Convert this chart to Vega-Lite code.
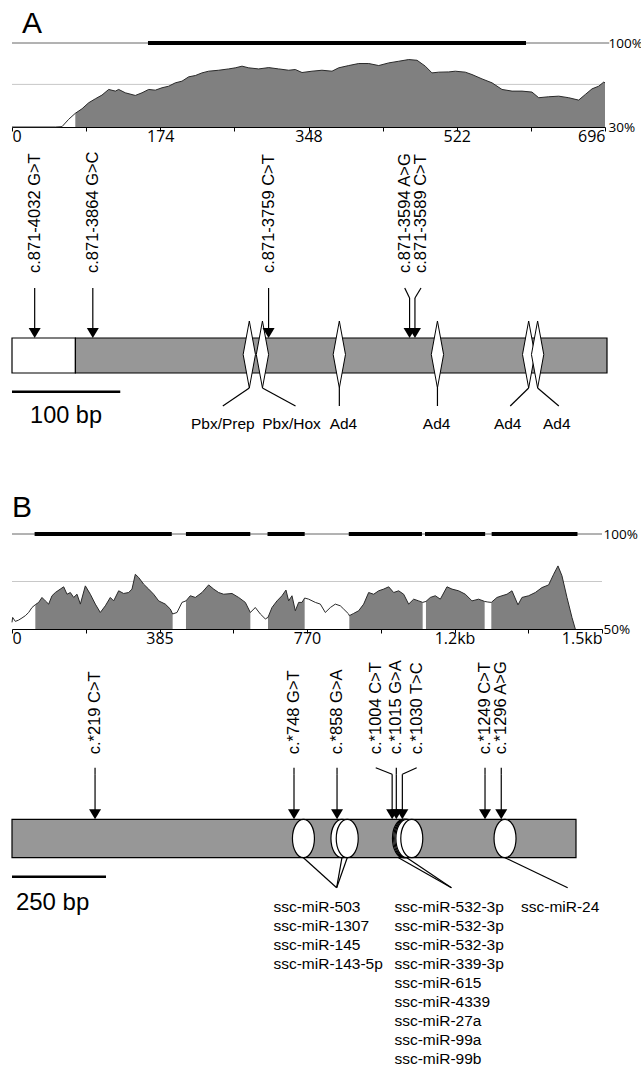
{
  "$schema": "https://vega.github.io/schema/vega-lite/v6.json",
  "background": "white",
  "padding": {"left": 10, "top": 8, "right": 0, "bottom": 0},
  "bounds": "flush",
  "spacing": 10,
  "config": {
    "view": {"stroke": null},
    "font": "Liberation Sans",
    "text": {"font": "Liberation Sans", "color": "black"},
    "title": {"font": "Liberation Sans", "fontSize": 30, "fontWeight": "normal", "anchor": "start", "baseline": "alphabetic", "color": "black"},
    "axis": {"labelFont": "Open Sans", "labelFontSize": 16, "labelColor": "black", "domainColor": "black", "tickColor": "black", "grid": false, "title": null, "labelOverlap": false}
  },
  "datasets": {
    "profileA": [
      {"pos": 0, "pct": 30}, {"pos": 50.9, "pct": 30}, {"pos": 58.7, "pct": 30.3}, {"pos": 66.5, "pct": 36.4},
      {"pos": 74.3, "pct": 41.4, "seg": "a1"}, {"pos": 82.2, "pct": 45.2, "seg": "a1"}, {"pos": 90.0, "pct": 50.2, "seg": "a1"}, {"pos": 97.8, "pct": 53.5, "seg": "a1"},
      {"pos": 105.6, "pct": 56.6, "seg": "a1"}, {"pos": 113.5, "pct": 61.3, "seg": "a1"}, {"pos": 121.3, "pct": 59.9, "seg": "a1"}, {"pos": 125.2, "pct": 61.3, "seg": "a1"},
      {"pos": 133.0, "pct": 58.5, "seg": "a1"}, {"pos": 144.7, "pct": 56.3, "seg": "a1"}, {"pos": 152.6, "pct": 58.5, "seg": "a1"}, {"pos": 160.4, "pct": 61.3, "seg": "a1"},
      {"pos": 168.2, "pct": 60.7, "seg": "a1"}, {"pos": 176.1, "pct": 62.7, "seg": "a1"}, {"pos": 183.9, "pct": 64.0, "seg": "a1"}, {"pos": 191.7, "pct": 66.8, "seg": "a1"},
      {"pos": 199.5, "pct": 68.2, "seg": "a1"}, {"pos": 207.4, "pct": 71.8, "seg": "a1"}, {"pos": 215.2, "pct": 72.9, "seg": "a1"}, {"pos": 223.0, "pct": 75.1, "seg": "a1"},
      {"pos": 230.8, "pct": 76.5, "seg": "a1"}, {"pos": 242.6, "pct": 77.3, "seg": "a1"}, {"pos": 254.3, "pct": 78.4, "seg": "a1"}, {"pos": 262.1, "pct": 79.3, "seg": "a1"},
      {"pos": 270.0, "pct": 80.7, "seg": "a1"}, {"pos": 277.8, "pct": 79.3, "seg": "a1"}, {"pos": 289.5, "pct": 78.4, "seg": "a1"}, {"pos": 301.3, "pct": 79.5, "seg": "a1"},
      {"pos": 313.0, "pct": 78.4, "seg": "a1"}, {"pos": 324.8, "pct": 77.3, "seg": "a1"}, {"pos": 332.5, "pct": 77.9, "seg": "a1"}, {"pos": 340.4, "pct": 75.4, "seg": "a1"},
      {"pos": 352.1, "pct": 76.5, "seg": "a1"}, {"pos": 363.8, "pct": 77.3, "seg": "a1"}, {"pos": 375.6, "pct": 76.5, "seg": "a1"}, {"pos": 383.4, "pct": 79.3, "seg": "a1"},
      {"pos": 395.2, "pct": 81.2, "seg": "a1"}, {"pos": 406.9, "pct": 82.9, "seg": "a1"}, {"pos": 418.7, "pct": 82.9, "seg": "a1"}, {"pos": 430.4, "pct": 81.2, "seg": "a1"},
      {"pos": 442.1, "pct": 83.4, "seg": "a1"}, {"pos": 453.9, "pct": 84.8, "seg": "a1"}, {"pos": 465.6, "pct": 86.2, "seg": "a1"}, {"pos": 475.4, "pct": 85.6, "seg": "a1"},
      {"pos": 485.1, "pct": 80.7, "seg": "a1"}, {"pos": 492.9, "pct": 75.1, "seg": "a1"}, {"pos": 500.8, "pct": 75.7, "seg": "a1"}, {"pos": 512.6, "pct": 75.9, "seg": "a1"},
      {"pos": 520.3, "pct": 76.5, "seg": "a1"}, {"pos": 532.0, "pct": 75.7, "seg": "a1"}, {"pos": 539.9, "pct": 73.7, "seg": "a1"}, {"pos": 551.6, "pct": 70.1, "seg": "a1"},
      {"pos": 563.4, "pct": 66.8, "seg": "a1"}, {"pos": 575.1, "pct": 61.3, "seg": "a1"}, {"pos": 586.9, "pct": 59.9, "seg": "a1"}, {"pos": 598.6, "pct": 59.9, "seg": "a1"},
      {"pos": 610.3, "pct": 59.1, "seg": "a1"}, {"pos": 618.2, "pct": 54.4, "seg": "a1"}, {"pos": 629.9, "pct": 55.2, "seg": "a1"}, {"pos": 641.7, "pct": 55.7, "seg": "a1"},
      {"pos": 653.4, "pct": 54.4, "seg": "a1"}, {"pos": 665.1, "pct": 52.4, "seg": "a1"}, {"pos": 672.9, "pct": 57.1, "seg": "a1"}, {"pos": 680.8, "pct": 61.8, "seg": "a1"},
      {"pos": 688.6, "pct": 64.0, "seg": "a1"}, {"pos": 694.5, "pct": 67.4, "seg": "a1"}, {"pos": 696, "pct": 66.8, "seg": "a1"}
    ],
    "profileB": [
      {"pos": 0, "pct": 53.5}, {"pos": 1.7, "pct": 56.1}, {"pos": 8.7, "pct": 54.0}, {"pos": 17.4, "pct": 54.7}, {"pos": 26.1, "pct": 55.8}, {"pos": 34.8, "pct": 57.0}, {"pos": 43.5, "pct": 58.7}, {"pos": 52.2, "pct": 61.3},
      {"pos": 60.9, "pct": 62.8, "seg": "b1"}, {"pos": 69.6, "pct": 64.0, "seg": "b1"}, {"pos": 78.3, "pct": 66.6, "seg": "b1"}, {"pos": 87.0, "pct": 64.8, "seg": "b1"}, {"pos": 95.7, "pct": 63.1, "seg": "b1"},
      {"pos": 104.4, "pct": 67.5, "seg": "b1"}, {"pos": 113.1, "pct": 69.2, "seg": "b1"}, {"pos": 126.1, "pct": 71.0, "seg": "b1"}, {"pos": 134.9, "pct": 72.2, "seg": "b1"}, {"pos": 143.6, "pct": 68.3, "seg": "b1"},
      {"pos": 152.3, "pct": 69.2, "seg": "b1"}, {"pos": 161.0, "pct": 66.6, "seg": "b1"}, {"pos": 169.7, "pct": 68.3, "seg": "b1"}, {"pos": 178.4, "pct": 63.1, "seg": "b1"}, {"pos": 191.4, "pct": 72.7, "seg": "b1"},
      {"pos": 204.4, "pct": 68.3, "seg": "b1"}, {"pos": 217.5, "pct": 63.1, "seg": "b1"}, {"pos": 230.5, "pct": 58.7, "seg": "b1"}, {"pos": 243.6, "pct": 62.2, "seg": "b1"}, {"pos": 256.6, "pct": 66.6, "seg": "b1"},
      {"pos": 265.3, "pct": 64.8, "seg": "b1"}, {"pos": 278.4, "pct": 70.1, "seg": "b1"}, {"pos": 291.4, "pct": 68.7, "seg": "b1"}, {"pos": 304.5, "pct": 69.2, "seg": "b1"}, {"pos": 313.2, "pct": 71.0, "seg": "b1"},
      {"pos": 321.9, "pct": 78.8, "seg": "b1"}, {"pos": 330.6, "pct": 77.1, "seg": "b1"}, {"pos": 343.6, "pct": 73.6, "seg": "b1"}, {"pos": 356.7, "pct": 71.0, "seg": "b1"}, {"pos": 369.7, "pct": 68.3, "seg": "b1"},
      {"pos": 382.8, "pct": 64.8, "seg": "b1"}, {"pos": 400.2, "pct": 63.1, "seg": "b1"}, {"pos": 413.2, "pct": 60.5, "seg": "b1"}, {"pos": 419.3, "pct": 57.9, "seg": "b1"},
      {"pos": 430.7, "pct": 58.7}, {"pos": 443.7, "pct": 64.0},
      {"pos": 454.1, "pct": 64.8, "seg": "b2"}, {"pos": 465.4, "pct": 67.5, "seg": "b2"}, {"pos": 478.5, "pct": 66.6, "seg": "b2"}, {"pos": 495.9, "pct": 69.2, "seg": "b2"}, {"pos": 513.3, "pct": 73.2, "seg": "b2"},
      {"pos": 526.4, "pct": 71.0, "seg": "b2"}, {"pos": 539.4, "pct": 69.2, "seg": "b2"}, {"pos": 552.5, "pct": 68.3, "seg": "b2"}, {"pos": 574.2, "pct": 68.7, "seg": "b2"}, {"pos": 591.6, "pct": 66.6, "seg": "b2"},
      {"pos": 609.0, "pct": 64.0, "seg": "b2"}, {"pos": 622.1, "pct": 58.7, "seg": "b2"},
      {"pos": 635.1, "pct": 61.3}, {"pos": 648.2, "pct": 57.9}, {"pos": 661.2, "pct": 55.3},
      {"pos": 668.2, "pct": 56.1, "seg": "b3"}, {"pos": 678.6, "pct": 61.3, "seg": "b3"}, {"pos": 691.7, "pct": 64.8, "seg": "b3"}, {"pos": 704.7, "pct": 67.5, "seg": "b3"}, {"pos": 715.1, "pct": 70.5, "seg": "b3"},
      {"pos": 722.1, "pct": 64.8, "seg": "b3"}, {"pos": 730.8, "pct": 67.5, "seg": "b3"}, {"pos": 739.5, "pct": 59.6, "seg": "b3"}, {"pos": 748.2, "pct": 64.0, "seg": "b3"}, {"pos": 756.9, "pct": 64.0, "seg": "b3"},
      {"pos": 763.9, "pct": 66.3, "seg": "b3"},
      {"pos": 774.3, "pct": 65.7}, {"pos": 791.7, "pct": 64.0}, {"pos": 804.8, "pct": 63.1}, {"pos": 817.8, "pct": 58.7}, {"pos": 830.9, "pct": 61.3}, {"pos": 843.9, "pct": 63.1}, {"pos": 857.0, "pct": 62.2},
      {"pos": 865.7, "pct": 60.5}, {"pos": 878.7, "pct": 57.9},
      {"pos": 880.5, "pct": 57.0, "seg": "b4"}, {"pos": 891.8, "pct": 58.2, "seg": "b4"}, {"pos": 904.8, "pct": 59.6, "seg": "b4"}, {"pos": 917.9, "pct": 63.1, "seg": "b4"}, {"pos": 930.9, "pct": 69.2, "seg": "b4"},
      {"pos": 944.0, "pct": 68.3, "seg": "b4"}, {"pos": 957.1, "pct": 70.1, "seg": "b4"}, {"pos": 970.1, "pct": 71.0, "seg": "b4"}, {"pos": 983.2, "pct": 72.2, "seg": "b4"}, {"pos": 996.2, "pct": 69.2, "seg": "b4"},
      {"pos": 1009.2, "pct": 70.1, "seg": "b4"}, {"pos": 1022.3, "pct": 68.3, "seg": "b4"}, {"pos": 1035.3, "pct": 63.1, "seg": "b4"}, {"pos": 1048.4, "pct": 65.7, "seg": "b4"}, {"pos": 1061.5, "pct": 64.8, "seg": "b4"},
      {"pos": 1071.9, "pct": 64.0, "seg": "b4"},
      {"pos": 1080.5, "pct": 64.5, "seg": "b5"}, {"pos": 1091.9, "pct": 66.6, "seg": "b5"}, {"pos": 1104.9, "pct": 67.5, "seg": "b5"}, {"pos": 1118.0, "pct": 65.7, "seg": "b5"}, {"pos": 1135.4, "pct": 72.2, "seg": "b5"},
      {"pos": 1148.4, "pct": 71.0, "seg": "b5"}, {"pos": 1165.8, "pct": 70.1, "seg": "b5"}, {"pos": 1183.3, "pct": 68.3, "seg": "b5"}, {"pos": 1200.6, "pct": 64.8, "seg": "b5"}, {"pos": 1218.0, "pct": 65.7, "seg": "b5"},
      {"pos": 1233.7, "pct": 64.5, "seg": "b5"},
      {"pos": 1242.0, "pct": 64.2},
      {"pos": 1251.1, "pct": 64.0, "seg": "b6"}, {"pos": 1265.9, "pct": 66.6, "seg": "b6"}, {"pos": 1278.9, "pct": 67.5, "seg": "b6"}, {"pos": 1292.0, "pct": 68.3, "seg": "b6"}, {"pos": 1305.0, "pct": 70.1, "seg": "b6"},
      {"pos": 1320.7, "pct": 62.7, "seg": "b6"}, {"pos": 1331.1, "pct": 66.6, "seg": "b6"}, {"pos": 1348.5, "pct": 67.5, "seg": "b6"}, {"pos": 1365.9, "pct": 69.2, "seg": "b6"}, {"pos": 1383.3, "pct": 71.8, "seg": "b6"},
      {"pos": 1400.7, "pct": 73.2, "seg": "b6"}, {"pos": 1413.8, "pct": 78.8, "seg": "b6"}, {"pos": 1425.1, "pct": 83.2, "seg": "b6"}, {"pos": 1435.5, "pct": 78.0, "seg": "b6"}, {"pos": 1448.6, "pct": 66.6, "seg": "b6"},
      {"pos": 1461.6, "pct": 56.1, "seg": "b6"}, {"pos": 1470.3, "pct": 50.0, "seg": "b6"}
    ],
    "conservedA": [{"start": 159.6, "end": 603.3}],
    "conservedB": [{"start": 59, "end": 417}, {"start": 454, "end": 622}, {"start": 667, "end": 764}, {"start": 879, "end": 1070}, {"start": 1078, "end": 1235}, {"start": 1252, "end": 1476}],
    "geneA": [{"part": "white", "start": 0, "end": 74.4}, {"part": "grey", "start": 74.4, "end": 698}],
    "motifsA": [
      {"name": "Pbx/Prep", "pos": 278.4, "cx": 247.3, "lx": 247.3},
      {"name": "Pbx/Hox", "pos": 293.8, "cx": 332.6, "lx": 327.9},
      {"name": "Ad4", "pos": 384.0, "cx": 384.0, "lx": 388.8},
      {"name": "Ad4", "pos": 499.1, "cx": 499.1, "lx": 498.1},
      {"name": "Ad4", "pos": 606.1, "cx": 584.5, "lx": 581.5},
      {"name": "Ad4", "pos": 616.6, "cx": 641.5, "lx": 639.1}
    ],
    "variantsA": [
      {"label": "c.871-4032 G>T", "lx": 26.6, "ax": 26.6},
      {"label": "c.871-3864 G>C", "lx": 94.8, "ax": 94.8},
      {"label": "c.871-3759 C>T", "lx": 301, "ax": 301},
      {"label": "c.871-3594 A>G", "lx": 460.7, "ax": 466.4},
      {"label": "c.871-3589 C>T", "lx": 479.8, "ax": 472.7}
    ],
    "scaleA": [{"label": "100 bp", "start": 0, "end": 127, "lpos": 63.4}],
    "geneB": [{"part": "3'UTR", "start": 0, "end": 1494}],
    "sitesB": [{"pos": 772}, {"pos": 874}, {"pos": 888}, {"pos": 1037}, {"pos": 1040}, {"pos": 1043}, {"pos": 1046}, {"pos": 1059}, {"pos": 1306}],
    "linksB": [{"from": 772, "to": 860}, {"from": 874, "to": 860}, {"from": 888, "to": 860}, {"from": 1024, "to": 1164}, {"from": 1046, "to": 1164}, {"from": 1306, "to": 1472}],
    "mirnaB": [
      {"lx": 692.5, "names": "ssc-miR-503\nssc-miR-1307\nssc-miR-145\nssc-miR-143-5p"},
      {"lx": 1013, "names": "ssc-miR-532-3p\nssc-miR-532-3p\nssc-miR-532-3p\nssc-miR-339-3p\nssc-miR-615\nssc-miR-4339\nssc-miR-27a\nssc-miR-99a\nssc-miR-99b"},
      {"lx": 1348.3, "names": "ssc-miR-24"}
    ],
    "variantsB": [
      {"label": "c.*219 C>T", "lx": 220, "ax": 220},
      {"label": "c.*748 G>T", "lx": 747, "ax": 747},
      {"label": "c.*858 G>A", "lx": 861, "ax": 861},
      {"label": "c.*1004 C>T", "lx": 963.5, "ax": 1007},
      {"label": "c.*1015 G>A", "lx": 1018, "ax": 1018},
      {"label": "c.*1030 T>C", "lx": 1072, "ax": 1034},
      {"label": "c.*1249 C>T", "lx": 1253, "ax": 1253},
      {"label": "c.*1296 A>G", "lx": 1296, "ax": 1296}
    ],
    "scaleB": [{"label": "250 bp", "start": 0, "end": 249, "lpos": 107.5}]
  },
  "vconcat": [
    {
      "width": 593, "height": 84,
      "title": {"text": "A", "dx": 12, "offset": -2.5},
      "resolve": {"axis": {"x": "independent", "y": "independent"}},
      "layer": [
        {"data": {"values": [{"level": 65.5, "start": 0, "end": 696}]},
         "mark": {"type": "rule", "color": "#c8c8c8", "strokeWidth": 1},
         "encoding": {"x": {"field": "start", "type": "quantitative", "axis": null}, "x2": {"field": "end"}, "y": {"field": "level", "type": "quantitative", "axis": null}}},
        {"data": {"values": [{"level": 100, "start": 0, "end": 701}]},
         "mark": {"type": "rule", "color": "#666666", "strokeWidth": 1},
         "encoding": {"x": {"field": "start", "type": "quantitative", "axis": null}, "x2": {"field": "end"}, "y": {"field": "level", "type": "quantitative", "axis": null}}},
        {"data": {"name": "profileA"},
         "transform": [{"filter": "isValid(datum.seg)"}],
         "mark": {"type": "area", "color": "#808080", "interpolate": "linear"},
         "encoding": {
           "x": {"field": "pos", "type": "quantitative", "scale": {"domain": [0, 696], "nice": false, "zero": false},
                 "axis": {"values": [0, 87, 174, 261, 348, 435, 522, 609, 696], "labelExpr": "datum.value % 174 === 0 ? datum.label : ''", "tickSize": 4, "labelPadding": -3}},
           "y": {"field": "pct", "type": "quantitative", "scale": {"domain": [30, 100], "nice": false, "zero": false},
                 "axis": {"orient": "right", "values": [30, 100], "labelExpr": "datum.value + '%'", "domain": false, "ticks": false, "labelPadding": 3, "labelFontSize": 13.5}},
           "y2": {"datum": 30},
           "detail": {"field": "seg"}
         }},
        {"data": {"name": "profileA"},
         "mark": {"type": "line", "color": "#2a2a2a", "strokeWidth": 1},
         "encoding": {"x": {"field": "pos", "type": "quantitative", "axis": null}, "y": {"field": "pct", "type": "quantitative", "axis": null}}},
        {"data": {"name": "conservedA"},
         "mark": {"type": "rule", "color": "black", "strokeWidth": 4},
         "encoding": {"x": {"field": "start", "type": "quantitative", "axis": null}, "x2": {"field": "end"}, "y": {"datum": 100, "axis": null}}}
      ]
    },
    {
      "width": 595, "height": 387,
      "layer": [
        {"data": {"name": "geneA"},
         "mark": {"type": "rect", "stroke": "black", "strokeWidth": 1.2},
         "encoding": {
           "x": {"field": "start", "type": "quantitative", "scale": {"domain": [0, 698], "nice": false, "zero": false}, "axis": null},
           "x2": {"field": "end"},
           "y": {"datum": 201, "scale": {"domain": [0, 387], "reverse": true, "nice": false, "zero": false}, "axis": null},
           "y2": {"datum": 236},
           "fill": {"field": "part", "type": "nominal", "scale": {"domain": ["white", "grey"], "range": ["#ffffff", "#979797"]}, "legend": null}
         }},
        {"data": {"name": "motifsA"},
         "mark": {"type": "point", "shape": "M0,-1L0.184,0L0,1L-0.184,0Z", "size": 4489, "filled": true, "fill": "white", "stroke": "black", "strokeWidth": 1, "opacity": 1},
         "encoding": {"x": {"field": "pos", "type": "quantitative", "axis": null}, "y": {"datum": 217.5, "axis": null}}},
        {"data": {"name": "motifsA"},
         "mark": {"type": "rule", "color": "black", "strokeWidth": 1.2},
         "encoding": {"x": {"field": "pos", "type": "quantitative", "axis": null}, "x2": {"field": "cx"}, "y": {"datum": 251, "axis": null}, "y2": {"datum": 269}}},
        {"data": {"name": "motifsA"},
         "mark": {"type": "text", "fontSize": 15.5, "align": "center", "baseline": "alphabetic"},
         "encoding": {"x": {"field": "lx", "type": "quantitative", "axis": null}, "y": {"datum": 291.5, "axis": null}, "text": {"field": "name"}}},
        {"data": {"name": "variantsA"},
         "mark": {"type": "text", "fontSize": 16.5, "align": "left", "baseline": "middle", "angle": -90},
         "encoding": {"x": {"field": "lx", "type": "quantitative", "axis": null}, "y": {"datum": 136, "axis": null}, "text": {"field": "label"}}},
        {"data": {"name": "variantsA"},
         "mark": {"type": "rule", "color": "black", "strokeWidth": 1.2},
         "encoding": {"x": {"field": "lx", "type": "quantitative", "axis": null}, "x2": {"field": "ax"}, "y": {"datum": 151, "axis": null}, "y2": {"datum": 161}}},
        {"data": {"name": "variantsA"},
         "mark": {"type": "rule", "color": "black", "strokeWidth": 1.2},
         "encoding": {"x": {"field": "ax", "type": "quantitative", "axis": null}, "y": {"datum": 161, "axis": null}, "y2": {"datum": 193}}},
        {"data": {"name": "variantsA"},
         "mark": {"type": "point", "shape": "M-1,-0.83L1,-0.83L0,0.83Z", "size": 144, "filled": true, "color": "black", "opacity": 1},
         "encoding": {"x": {"field": "ax", "type": "quantitative", "axis": null}, "y": {"datum": 196, "axis": null}}},
        {"data": {"name": "scaleA"},
         "mark": {"type": "rule", "color": "black", "strokeWidth": 2.5},
         "encoding": {"x": {"field": "start", "type": "quantitative", "axis": null}, "x2": {"field": "end"}, "y": {"datum": 254.7, "axis": null}}},
        {"data": {"name": "scaleA"},
         "mark": {"type": "text", "fontSize": 23.5, "align": "center", "baseline": "alphabetic"},
         "encoding": {"x": {"field": "lpos", "type": "quantitative", "axis": null}, "y": {"datum": 286, "axis": null}, "text": {"field": "label"}}}
      ]
    },
    {
      "width": 590, "height": 95,
      "title": {"text": "B", "dx": 2, "offset": 4},
      "resolve": {"axis": {"x": "independent", "y": "independent"}},
      "layer": [
        {"data": {"values": [{"level": 75, "start": 0, "end": 1540}]},
         "mark": {"type": "rule", "color": "#c8c8c8", "strokeWidth": 1},
         "encoding": {"x": {"field": "start", "type": "quantitative", "axis": null}, "x2": {"field": "end"}, "y": {"field": "level", "type": "quantitative", "axis": null}}},
        {"data": {"values": [{"level": 100, "start": 0, "end": 1540}]},
         "mark": {"type": "rule", "color": "#666666", "strokeWidth": 1},
         "encoding": {"x": {"field": "start", "type": "quantitative", "axis": null}, "x2": {"field": "end"}, "y": {"field": "level", "type": "quantitative", "axis": null}}},
        {"data": {"name": "profileB"},
         "transform": [{"filter": "isValid(datum.seg)"}],
         "mark": {"type": "area", "color": "#808080", "interpolate": "linear"},
         "encoding": {
           "x": {"field": "pos", "type": "quantitative", "scale": {"domain": [0, 1540], "nice": false, "zero": false},
                 "axis": {"values": [0, 192.5, 385, 577.5, 770, 962.5, 1155, 1347.5, 1540], "labelExpr": "datum.value == 0 ? '0' : datum.value == 385 ? '385' : datum.value == 770 ? '770' : datum.value == 1155 ? '1.2kb' : datum.value == 1540 ? '1.5kb' : ''", "tickSize": 4, "labelPadding": -3}},
           "y": {"field": "pct", "type": "quantitative", "scale": {"domain": [50, 100], "nice": false, "zero": false},
                 "axis": {"orient": "right", "values": [50, 100], "labelExpr": "datum.value + '%'", "domain": false, "ticks": false, "labelPadding": 1, "labelFontSize": 13.5}},
           "y2": {"datum": 50},
           "detail": {"field": "seg"}
         }},
        {"data": {"name": "profileB"},
         "mark": {"type": "line", "color": "#2a2a2a", "strokeWidth": 1},
         "encoding": {"x": {"field": "pos", "type": "quantitative", "axis": null}, "y": {"field": "pct", "type": "quantitative", "axis": null}}},
        {"data": {"name": "conservedB"},
         "mark": {"type": "rule", "color": "black", "strokeWidth": 4},
         "encoding": {"x": {"field": "start", "type": "quantitative", "axis": null}, "x2": {"field": "end"}, "y": {"datum": 100, "axis": null}}}
      ]
    },
    {
      "width": 564, "height": 431,
      "layer": [
        {"data": {"name": "geneB"},
         "mark": {"type": "rect", "stroke": "black", "strokeWidth": 1.2, "fill": "#979797"},
         "encoding": {
           "x": {"field": "start", "type": "quantitative", "scale": {"domain": [0, 1494], "nice": false, "zero": false}, "axis": null},
           "x2": {"field": "end"},
           "y": {"datum": 180.3, "scale": {"domain": [0, 431], "reverse": true, "nice": false, "zero": false}, "axis": null},
           "y2": {"datum": 218.7}
         }},
        {"data": {"name": "sitesB"},
         "mark": {"type": "point", "shape": "M0,-1C0.3165,-1,0.573,-0.5523,0.573,0C0.573,0.5523,0.3165,1,0,1C-0.3165,1,-0.573,0.5523,-0.573,0C-0.573,-0.5523,-0.3165,-1,0,-1Z", "size": 1475, "filled": true, "fill": "white", "stroke": "black", "strokeWidth": 1.2, "opacity": 1},
         "encoding": {"x": {"field": "pos", "type": "quantitative", "axis": null}, "y": {"datum": 199.5, "axis": null}}},
        {"data": {"name": "linksB"},
         "mark": {"type": "rule", "color": "black", "strokeWidth": 1.2},
         "encoding": {"x": {"field": "from", "type": "quantitative", "axis": null}, "x2": {"field": "to"}, "y": {"datum": 218.7, "axis": null}, "y2": {"datum": 248.7}}},
        {"data": {"name": "mirnaB"},
         "mark": {"type": "text", "fontSize": 15.5, "align": "left", "baseline": "alphabetic", "lineBreak": "\n", "lineHeight": 19},
         "encoding": {"x": {"field": "lx", "type": "quantitative", "axis": null}, "y": {"datum": 272.7, "axis": null}, "text": {"field": "names"}}},
        {"data": {"name": "variantsB"},
         "mark": {"type": "text", "fontSize": 16.5, "align": "left", "baseline": "middle", "angle": -90},
         "encoding": {"x": {"field": "lx", "type": "quantitative", "axis": null}, "y": {"datum": 115.3, "axis": null}, "text": {"field": "label"}}},
        {"data": {"name": "variantsB"},
         "mark": {"type": "rule", "color": "black", "strokeWidth": 1.2},
         "encoding": {"x": {"field": "lx", "type": "quantitative", "axis": null}, "x2": {"field": "ax"}, "y": {"datum": 128.7, "axis": null}, "y2": {"datum": 135.3}}},
        {"data": {"name": "variantsB"},
         "mark": {"type": "rule", "color": "black", "strokeWidth": 1.2},
         "encoding": {"x": {"field": "ax", "type": "quantitative", "axis": null}, "y": {"datum": 135.3, "axis": null}, "y2": {"datum": 172}}},
        {"data": {"name": "variantsB"},
         "mark": {"type": "point", "shape": "M-1,-0.83L1,-0.83L0,0.83Z", "size": 144, "filled": true, "color": "black", "opacity": 1},
         "encoding": {"x": {"field": "ax", "type": "quantitative", "axis": null}, "y": {"datum": 175.3, "axis": null}}},
        {"data": {"name": "scaleB"},
         "mark": {"type": "rule", "color": "black", "strokeWidth": 2.5},
         "encoding": {"x": {"field": "start", "type": "quantitative", "axis": null}, "x2": {"field": "end"}, "y": {"datum": 237.7, "axis": null}}},
        {"data": {"name": "scaleB"},
         "mark": {"type": "text", "fontSize": 24, "align": "center", "baseline": "alphabetic"},
         "encoding": {"x": {"field": "lpos", "type": "quantitative", "axis": null}, "y": {"datum": 271.3, "axis": null}, "text": {"field": "label"}}}
      ]
    }
  ]
}
